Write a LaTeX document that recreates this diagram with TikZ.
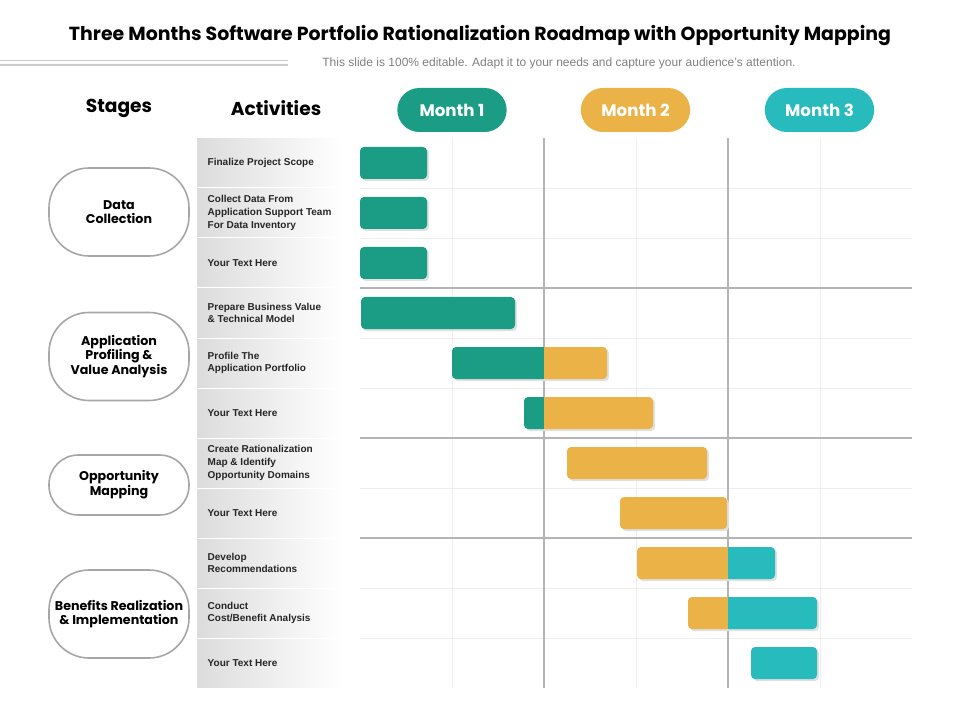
\documentclass[tikz,border=0pt]{standalone}
\usepackage{fontspec}
\setmainfont{Liberation Sans}
\newfontfamily\headfont{Poppins}
\definecolor{cteal}{HTML}{1A9C85}
\definecolor{cyel}{HTML}{EBB247}
\definecolor{ccyan}{HTML}{27BBBD}
\definecolor{cgridmaj}{HTML}{B4B4B4}
\definecolor{cgridmin}{HTML}{EEEEEE}
\definecolor{cact}{HTML}{DCDCDC}
\begin{document}
\begin{tikzpicture}[x=0.75pt,y=-0.75pt,
  stagebox/.style={draw=gray!70,line width=1.2pt,rounded corners=30pt,minimum width=105pt,minimum height=66pt,align=center,font=\headfont\bfseries\fontsize{9.5}{11}\selectfont},
  monthpill/.style={rounded corners=16.5pt,minimum width=82pt,minimum height=33pt,text=white,font=\headfont\bfseries\fontsize{12.5}{14}\selectfont},
  acttext/.style={anchor=west,align=left,font=\bfseries\fontsize{7.5}{9.5}\selectfont,text=black!85},
  hdr/.style={font=\headfont\bfseries\fontsize{14}{16}\selectfont}]
\useasboundingbox (0,0) rectangle (960,720);
\fill[white] (0,0) rectangle (960,720);
\node[font=\headfont\bfseries\fontsize{14.2}{16}\selectfont] (title) at (480,36) {Three Months Software Portfolio Rationalization Roadmap with Opportunity Mapping};
\node[font=\fontsize{9}{11}\selectfont,text=gray] (sub) at (559,63) {This slide is 100\% editable. Adapt it to your needs and capture your audience's attention.};
\draw[gray!40,line width=1pt] (0,60.5) -- (288,60.5) (0,65) -- (288,65);
\node[hdr] (hst) at (119,108) {Stages};
\node[hdr] (hac) at (276,108) {Activities};
\node[monthpill,fill=cteal] (m1) at (452,110) {Month 1};
\node[monthpill,fill=cyel] (m2) at (635.5,110) {Month 2};
\node[monthpill,fill=ccyan] (m3) at (819.5,110) {Month 3};
% grid
\foreach \y in {188,238,338,388,488,588,638}{\draw[cgridmin] (360,\y) -- (912,\y);}
\foreach \x in {452,636,820}{\draw[cgridmin] (\x,138) -- (\x,688);}
\foreach \y in {288,438,538}{\draw[cgridmaj,line width=0.9pt] (360,\y) -- (912,\y);}
\foreach \x in {544,728}{\draw[cgridmaj,line width=0.9pt] (\x,138) -- (\x,688);}
% activity cells
\foreach \i/\t in {0/{Finalize Project Scope},1/{Collect Data From\\Application Support Team\\For Data Inventory},2/{Your Text Here},3/{Prepare Business Value\\\& Technical Model},4/{Profile The\\Application Portfolio},5/{Your Text Here},6/{Create Rationalization\\Map \& Identify\\Opportunity Domains},7/{Your Text Here},8/{Develop\\Recommendations},9/{Conduct\\Cost/Benefit Analysis},10/{Your Text Here}}{
  \shade[left color=cact,right color=white] (197,{139+50*\i}) rectangle (342,{187+50*\i});
  \node[acttext] (act\i) at (203,{163+50*\i}) {\t};
}
% stages
\node[stagebox] (s1) at (119,212) {Data\\Collection};
\node[stagebox] (s2) at (119,356.5) {Application\\Profiling \&\\Value Analysis};
\node[stagebox,minimum height=45pt,rounded corners=22pt] (s3) at (119,485) {Opportunity\\Mapping};
\node[stagebox] (s4) at (119,614) {Benefits Realization\\\& Implementation};
% bars
\newcommand{\gbar}[4]{% row, x1, x2, color
  \fill[black!12,rounded corners=3pt] ({#2+2},{149+50*#1}) rectangle ({#3+2},{181+50*#1});
  \fill[#4,rounded corners=3pt] (#2,{147+50*#1}) rectangle (#3,{179+50*#1});}
\newcommand{\sbar}[5]{% row, x1, xm, x2, c1, c2 -> split at xm
  \fill[black!12,rounded corners=3pt] ({#2+2},{149+50*#1}) rectangle ({#4+2},{181+50*#1});
  \begin{scope}\clip (#2,{140+50*#1}) rectangle (#3,{190+50*#1});
  \fill[#5,rounded corners=3pt] (#2,{147+50*#1}) rectangle (#4,{179+50*#1});\end{scope}
  \begin{scope}\clip (#3,{140+50*#1}) rectangle ({#4+5},{190+50*#1});
  \fill[\splitc,rounded corners=3pt] (#2,{147+50*#1}) rectangle (#4,{179+50*#1});\end{scope}}
\gbar{0}{360}{427}{cteal}
\gbar{1}{360}{427}{cteal}
\gbar{2}{360}{427}{cteal}
\gbar{3}{361}{515}{cteal}
\def\splitc{cyel}
\sbar{4}{452}{544}{607}{cteal}
\sbar{5}{524}{544}{653}{cteal}
\gbar{6}{567}{707}{cyel}
\gbar{7}{620}{727}{cyel}
\def\splitc{ccyan}
\sbar{8}{637}{728}{775}{cyel}
\sbar{9}{688}{728}{817}{cyel}
\gbar{10}{751}{817}{ccyan}
\end{tikzpicture}
\end{document}
